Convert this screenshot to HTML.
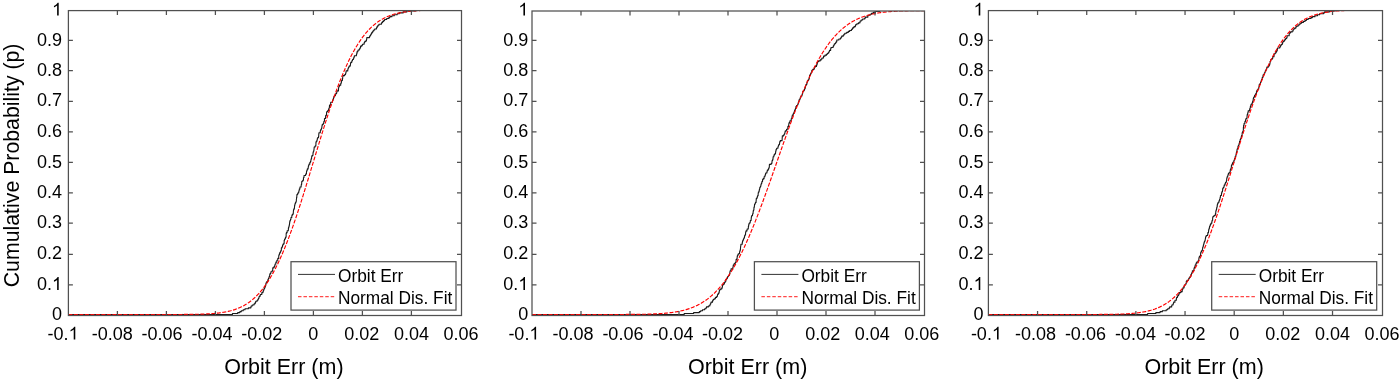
<!DOCTYPE html><html><head><meta charset="utf-8"><style>html,body{margin:0;padding:0;background:#fff;overflow:hidden}svg{display:block;will-change:transform}</style></head><body>
<svg width="1400" height="379" viewBox="0 0 1400 379" font-family='"Liberation Sans", sans-serif' fill="#000">
<rect width="1400" height="379" fill="#fff"/>
<defs><clipPath id="c0"><rect x="68.4" y="10.6" width="393.1" height="304.9"/></clipPath></defs>
<g clip-path="url(#c0)"><path d="M68.40 314.50 L232.44 314.50 L232.44 314.50 L232.44 313.55 L237.71 313.55 L237.71 312.60 L239.88 312.60 L239.88 311.65 L241.28 311.65 L241.28 310.69 L243.18 310.69 L243.18 309.74 L245.02 309.74 L245.02 308.79 L248.36 308.79 L248.36 307.84 L250.86 307.84 L250.86 306.89 L251.14 306.89 L251.14 305.94 L252.24 305.94 L252.24 304.98 L253.94 304.98 L253.94 304.03 L254.78 304.03 L254.78 303.08 L255.51 303.08 L255.51 302.13 L255.76 302.13 L255.76 301.18 L257.14 301.18 L257.14 300.23 L257.91 300.23 L257.91 299.27 L258.38 299.27 L258.38 298.32 L258.99 298.32 L258.99 297.37 L259.17 297.37 L259.17 296.42 L260.00 296.42 L260.00 295.47 L260.29 295.47 L260.29 294.52 L261.77 294.52 L261.77 293.57 L261.83 293.57 L261.83 292.61 L262.95 292.61 L262.95 291.66 L263.22 291.66 L263.22 290.71 L263.65 290.71 L263.65 289.76 L263.92 289.76 L263.92 288.81 L264.54 288.81 L264.54 287.86 L264.92 287.86 L264.92 286.90 L265.20 286.90 L265.20 285.95 L265.60 285.95 L265.60 285.00 L265.88 285.00 L265.88 284.05 L265.93 284.05 L265.93 283.10 L266.39 283.10 L266.39 282.15 L267.14 282.15 L267.14 281.20 L267.88 281.20 L267.88 280.24 L267.98 280.24 L267.98 279.29 L268.44 279.29 L268.44 278.34 L268.92 278.34 L268.92 277.39 L269.12 277.39 L269.12 276.44 L269.65 276.44 L269.65 275.49 L269.68 275.49 L269.68 274.53 L270.03 274.53 L270.03 273.58 L270.81 273.58 L270.81 272.63 L270.89 272.63 L270.89 271.68 L272.10 271.68 L272.10 270.73 L272.71 270.73 L272.71 269.78 L272.73 269.78 L272.73 268.82 L272.75 268.82 L272.75 267.87 L273.85 267.87 L273.85 266.92 L274.55 266.92 L274.55 265.97 L274.81 265.97 L274.81 265.02 L275.09 265.02 L275.09 264.07 L275.87 264.07 L275.87 263.12 L275.88 263.12 L275.88 262.16 L276.86 262.16 L276.86 261.21 L276.87 261.21 L276.87 260.26 L277.75 260.26 L277.75 259.31 L277.80 259.31 L277.80 258.36 L278.65 258.36 L278.65 257.41 L278.73 257.41 L278.73 256.45 L278.74 256.45 L278.74 255.50 L279.04 255.50 L279.04 254.55 L279.46 254.55 L279.46 253.60 L279.77 253.60 L279.77 252.65 L280.36 252.65 L280.36 251.70 L280.70 251.70 L280.70 250.75 L281.29 250.75 L281.29 249.79 L281.35 249.79 L281.35 248.84 L281.36 248.84 L281.36 247.89 L281.85 247.89 L281.85 246.94 L282.52 246.94 L282.52 245.99 L282.55 245.99 L282.55 245.04 L283.06 245.04 L283.06 244.08 L283.87 244.08 L283.87 243.13 L284.16 243.13 L284.16 242.18 L284.17 242.18 L284.17 241.23 L284.19 241.23 L284.19 240.28 L284.54 240.28 L284.54 239.33 L285.06 239.33 L285.06 238.38 L285.44 238.38 L285.44 237.42 L285.92 237.42 L285.92 236.47 L286.14 236.47 L286.14 235.52 L286.15 235.52 L286.15 234.57 L286.16 234.57 L286.16 233.62 L286.41 233.62 L286.41 232.67 L287.12 232.67 L287.12 231.71 L287.15 231.71 L287.15 230.76 L288.28 230.76 L288.28 229.81 L288.40 229.81 L288.40 228.86 L288.41 228.86 L288.41 227.91 L288.67 227.91 L288.67 226.96 L288.99 226.96 L288.99 226.00 L289.24 226.00 L289.24 225.05 L289.44 225.05 L289.44 224.10 L289.57 224.10 L289.57 223.15 L289.65 223.15 L289.65 222.20 L289.79 222.20 L289.79 221.25 L290.08 221.25 L290.08 220.30 L290.51 220.30 L290.51 219.34 L290.90 219.34 L290.90 218.39 L290.97 218.39 L290.97 217.44 L291.78 217.44 L291.78 216.49 L291.82 216.49 L291.82 215.54 L292.19 215.54 L292.19 214.59 L292.96 214.59 L292.96 213.63 L293.27 213.63 L293.27 212.68 L293.35 212.68 L293.35 211.73 L293.40 211.73 L293.40 210.78 L293.52 210.78 L293.52 209.83 L293.80 209.83 L293.80 208.88 L294.32 208.88 L294.32 207.93 L294.47 207.93 L294.47 206.97 L294.55 206.97 L294.55 206.02 L294.63 206.02 L294.63 205.07 L294.95 205.07 L294.95 204.12 L295.18 204.12 L295.18 203.17 L295.59 203.17 L295.59 202.22 L296.05 202.22 L296.05 201.26 L296.32 201.26 L296.32 200.31 L296.37 200.31 L296.37 199.36 L296.51 199.36 L296.51 198.41 L296.53 198.41 L296.53 197.46 L296.78 197.46 L296.78 196.51 L296.84 196.51 L296.84 195.55 L296.91 195.55 L296.91 194.60 L297.58 194.60 L297.58 193.65 L298.00 193.65 L298.00 192.70 L298.71 192.70 L298.71 191.75 L298.85 191.75 L298.85 190.80 L299.22 190.80 L299.22 189.85 L299.37 189.85 L299.37 188.89 L299.90 188.89 L299.90 187.94 L299.98 187.94 L299.98 186.99 L301.12 186.99 L301.12 186.04 L301.22 186.04 L301.22 185.09 L301.37 185.09 L301.37 184.14 L301.67 184.14 L301.67 183.18 L301.71 183.18 L301.71 182.23 L301.81 182.23 L301.81 181.28 L302.78 181.28 L302.78 180.33 L303.36 180.33 L303.36 179.38 L303.46 179.38 L303.46 178.43 L303.49 178.43 L303.49 177.47 L303.98 177.47 L303.98 176.52 L304.02 176.52 L304.02 175.57 L305.54 175.57 L305.54 174.62 L305.96 174.62 L305.96 173.67 L306.47 173.67 L306.47 172.72 L306.48 172.72 L306.48 171.77 L306.63 171.77 L306.63 170.81 L307.10 170.81 L307.10 169.86 L307.36 169.86 L307.36 168.91 L308.09 168.91 L308.09 167.96 L308.24 167.96 L308.24 167.01 L308.36 167.01 L308.36 166.06 L308.65 166.06 L308.65 165.10 L309.05 165.10 L309.05 164.15 L309.79 164.15 L309.79 163.20 L309.88 163.20 L309.88 162.25 L310.56 162.25 L310.56 161.30 L310.86 161.30 L310.86 160.35 L311.02 160.35 L311.02 159.40 L311.25 159.40 L311.25 158.44 L311.60 158.44 L311.60 157.49 L311.64 157.49 L311.64 156.54 L311.97 156.54 L311.97 155.59 L312.86 155.59 L312.86 154.64 L312.98 154.64 L312.98 153.69 L313.03 153.69 L313.03 152.73 L313.20 152.73 L313.20 151.78 L313.66 151.78 L313.66 150.83 L313.88 150.83 L313.88 149.88 L313.98 149.88 L313.98 148.93 L314.09 148.93 L314.09 147.98 L314.18 147.98 L314.18 147.02 L315.07 147.02 L315.07 146.07 L315.83 146.07 L315.83 145.12 L315.90 145.12 L315.90 144.17 L315.92 144.17 L315.92 143.22 L315.96 143.22 L315.96 142.27 L316.22 142.27 L316.22 141.32 L316.93 141.32 L316.93 140.36 L317.19 140.36 L317.19 139.41 L317.33 139.41 L317.33 138.46 L317.74 138.46 L317.74 137.51 L318.54 137.51 L318.54 136.56 L318.69 136.56 L318.69 135.61 L318.75 135.61 L318.75 134.65 L318.78 134.65 L318.78 133.70 L318.93 133.70 L318.93 132.75 L320.27 132.75 L320.27 131.80 L320.30 131.80 L320.30 130.85 L320.62 130.85 L320.62 129.90 L321.05 129.90 L321.05 128.95 L321.55 128.95 L321.55 127.99 L321.86 127.99 L321.86 127.04 L321.93 127.04 L321.93 126.09 L322.11 126.09 L322.11 125.14 L322.33 125.14 L322.33 124.19 L323.41 124.19 L323.41 123.24 L323.74 123.24 L323.74 122.28 L323.89 122.28 L323.89 121.33 L324.40 121.33 L324.40 120.38 L324.46 120.38 L324.46 119.43 L324.49 119.43 L324.49 118.48 L325.46 118.48 L325.46 117.53 L325.60 117.53 L325.60 116.57 L325.64 116.57 L325.64 115.62 L326.35 115.62 L326.35 114.67 L326.44 114.67 L326.44 113.72 L326.56 113.72 L326.56 112.77 L326.63 112.77 L326.63 111.82 L327.54 111.82 L327.54 110.87 L328.39 110.87 L328.39 109.91 L328.67 109.91 L328.67 108.96 L328.91 108.96 L328.91 108.01 L329.40 108.01 L329.40 107.06 L329.44 107.06 L329.44 106.11 L329.50 106.11 L329.50 105.16 L330.66 105.16 L330.66 104.20 L330.69 104.20 L330.69 103.25 L330.71 103.25 L330.71 102.30 L332.45 102.30 L332.45 101.35 L332.57 101.35 L332.57 100.40 L332.94 100.40 L332.94 99.45 L333.32 99.45 L333.32 98.50 L333.61 98.50 L333.61 97.54 L333.87 97.54 L333.87 96.59 L334.40 96.59 L334.40 95.64 L335.39 95.64 L335.39 94.69 L335.51 94.69 L335.51 93.74 L336.53 93.74 L336.53 92.79 L336.84 92.79 L336.84 91.83 L336.98 91.83 L336.98 90.88 L338.45 90.88 L338.45 89.93 L338.51 89.93 L338.51 88.98 L338.57 88.98 L338.57 88.03 L338.66 88.03 L338.66 87.08 L339.00 87.08 L339.00 86.12 L339.60 86.12 L339.60 85.17 L340.70 85.17 L340.70 84.22 L340.76 84.22 L340.76 83.27 L341.24 83.27 L341.24 82.32 L341.45 82.32 L341.45 81.37 L341.63 81.37 L341.63 80.42 L342.35 80.42 L342.35 79.46 L342.49 79.46 L342.49 78.51 L342.67 78.51 L342.67 77.56 L342.76 77.56 L342.76 76.61 L342.98 76.61 L342.98 75.66 L344.45 75.66 L344.45 74.71 L345.48 74.71 L345.48 73.75 L345.73 73.75 L345.73 72.80 L346.03 72.80 L346.03 71.85 L346.11 71.85 L346.11 70.90 L347.74 70.90 L347.74 69.95 L347.84 69.95 L347.84 69.00 L348.16 69.00 L348.16 68.05 L348.60 68.05 L348.60 67.09 L349.15 67.09 L349.15 66.14 L350.11 66.14 L350.11 65.19 L350.46 65.19 L350.46 64.24 L350.52 64.24 L350.52 63.29 L350.77 63.29 L350.77 62.34 L351.78 62.34 L351.78 61.38 L351.98 61.38 L351.98 60.43 L352.50 60.43 L352.50 59.48 L353.38 59.48 L353.38 58.53 L353.73 58.53 L353.73 57.58 L354.13 57.58 L354.13 56.63 L354.36 56.63 L354.36 55.68 L356.39 55.68 L356.39 54.72 L356.53 54.72 L356.53 53.77 L356.95 53.77 L356.95 52.82 L356.96 52.82 L356.96 51.87 L357.73 51.87 L357.73 50.92 L358.11 50.92 L358.11 49.97 L359.32 49.97 L359.32 49.01 L359.80 49.01 L359.80 48.06 L360.56 48.06 L360.56 47.11 L360.56 47.11 L360.56 46.16 L361.74 46.16 L361.74 45.21 L362.51 45.21 L362.51 44.26 L364.06 44.26 L364.06 43.30 L364.27 43.30 L364.27 42.35 L364.81 42.35 L364.81 41.40 L365.97 41.40 L365.97 40.45 L366.47 40.45 L366.47 39.50 L366.68 39.50 L366.68 38.55 L366.81 38.55 L366.81 37.60 L369.45 37.60 L369.45 36.64 L369.81 36.64 L369.81 35.69 L370.52 35.69 L370.52 34.74 L371.11 34.74 L371.11 33.79 L371.53 33.79 L371.53 32.84 L372.36 32.84 L372.36 31.89 L372.86 31.89 L372.86 30.93 L373.70 30.93 L373.70 29.98 L374.68 29.98 L374.68 29.03 L376.42 29.03 L376.42 28.08 L376.74 28.08 L376.74 27.13 L377.31 27.13 L377.31 26.18 L377.97 26.18 L377.97 25.23 L378.96 25.23 L378.96 24.27 L381.36 24.27 L381.36 23.32 L381.81 23.32 L381.81 22.37 L382.71 22.37 L382.71 21.42 L383.71 21.42 L383.71 20.47 L384.60 20.47 L384.60 19.52 L386.68 19.52 L386.68 18.56 L388.83 18.56 L388.83 17.61 L389.81 17.61 L389.81 16.66 L391.87 16.66 L391.87 15.71 L394.23 15.71 L394.23 14.76 L397.14 14.76 L397.14 13.81 L399.16 13.81 L399.16 12.85 L403.25 12.85 L403.25 11.90 L406.80 11.90 L406.80 10.95 L415.83 10.95 L415.83 10.00 L461.50 10.00" fill="none" stroke="#1a1a1a" stroke-width="1.1" stroke-linejoin="round"/>
<path d="M68.40 314.50 L69.19 314.50 L69.98 314.50 L70.76 314.50 L71.55 314.50 L72.34 314.50 L73.13 314.50 L73.91 314.50 L74.70 314.50 L75.49 314.50 L76.28 314.50 L77.07 314.50 L77.85 314.50 L78.64 314.50 L79.43 314.50 L80.22 314.50 L81.00 314.50 L81.79 314.50 L82.58 314.50 L83.37 314.50 L84.16 314.50 L84.94 314.50 L85.73 314.50 L86.52 314.50 L87.31 314.50 L88.09 314.50 L88.88 314.50 L89.67 314.50 L90.46 314.50 L91.25 314.50 L92.03 314.50 L92.82 314.50 L93.61 314.50 L94.40 314.50 L95.18 314.50 L95.97 314.50 L96.76 314.50 L97.55 314.50 L98.34 314.50 L99.12 314.50 L99.91 314.50 L100.70 314.50 L101.49 314.50 L102.27 314.50 L103.06 314.50 L103.85 314.50 L104.64 314.50 L105.43 314.50 L106.21 314.50 L107.00 314.50 L107.79 314.50 L108.58 314.50 L109.36 314.50 L110.15 314.50 L110.94 314.50 L111.73 314.50 L112.52 314.50 L113.30 314.50 L114.09 314.50 L114.88 314.50 L115.67 314.50 L116.45 314.50 L117.24 314.50 L118.03 314.50 L118.82 314.50 L119.61 314.50 L120.39 314.50 L121.18 314.50 L121.97 314.50 L122.76 314.50 L123.54 314.50 L124.33 314.50 L125.12 314.50 L125.91 314.50 L126.70 314.50 L127.48 314.50 L128.27 314.50 L129.06 314.50 L129.85 314.50 L130.63 314.50 L131.42 314.50 L132.21 314.50 L133.00 314.50 L133.79 314.50 L134.57 314.50 L135.36 314.50 L136.15 314.50 L136.94 314.50 L137.72 314.50 L138.51 314.50 L139.30 314.50 L140.09 314.50 L140.88 314.50 L141.66 314.50 L142.45 314.50 L143.24 314.50 L144.03 314.50 L144.81 314.50 L145.60 314.50 L146.39 314.50 L147.18 314.50 L147.97 314.50 L148.75 314.50 L149.54 314.50 L150.33 314.50 L151.12 314.50 L151.90 314.50 L152.69 314.50 L153.48 314.50 L154.27 314.50 L155.06 314.50 L155.84 314.50 L156.63 314.50 L157.42 314.50 L158.21 314.50 L158.99 314.50 L159.78 314.50 L160.57 314.50 L161.36 314.49 L162.15 314.49 L162.93 314.49 L163.72 314.49 L164.51 314.49 L165.30 314.49 L166.08 314.49 L166.87 314.49 L167.66 314.49 L168.45 314.49 L169.24 314.49 L170.02 314.49 L170.81 314.48 L171.60 314.48 L172.39 314.48 L173.17 314.48 L173.96 314.48 L174.75 314.48 L175.54 314.47 L176.33 314.47 L177.11 314.47 L177.90 314.47 L178.69 314.46 L179.48 314.46 L180.26 314.46 L181.05 314.45 L181.84 314.45 L182.63 314.44 L183.42 314.44 L184.20 314.43 L184.99 314.43 L185.78 314.42 L186.57 314.42 L187.35 314.41 L188.14 314.40 L188.93 314.39 L189.72 314.38 L190.51 314.38 L191.29 314.37 L192.08 314.35 L192.87 314.34 L193.66 314.33 L194.44 314.32 L195.23 314.30 L196.02 314.29 L196.81 314.27 L197.60 314.25 L198.38 314.24 L199.17 314.21 L199.96 314.19 L200.75 314.17 L201.53 314.15 L202.32 314.12 L203.11 314.09 L203.90 314.06 L204.69 314.03 L205.47 314.00 L206.26 313.96 L207.05 313.92 L207.84 313.88 L208.62 313.84 L209.41 313.79 L210.20 313.74 L210.99 313.69 L211.78 313.64 L212.56 313.58 L213.35 313.52 L214.14 313.45 L214.93 313.38 L215.71 313.31 L216.50 313.23 L217.29 313.15 L218.08 313.06 L218.87 312.97 L219.65 312.87 L220.44 312.76 L221.23 312.65 L222.02 312.54 L222.80 312.42 L223.59 312.29 L224.38 312.15 L225.17 312.01 L225.96 311.86 L226.74 311.71 L227.53 311.54 L228.32 311.36 L229.11 311.18 L229.89 310.99 L230.68 310.79 L231.47 310.57 L232.26 310.35 L233.05 310.12 L233.83 309.87 L234.62 309.62 L235.41 309.35 L236.20 309.07 L236.98 308.78 L237.77 308.47 L238.56 308.15 L239.35 307.81 L240.14 307.46 L240.92 307.10 L241.71 306.72 L242.50 306.32 L243.29 305.90 L244.07 305.47 L244.86 305.02 L245.65 304.55 L246.44 304.07 L247.23 303.56 L248.01 303.03 L248.80 302.49 L249.59 301.92 L250.38 301.33 L251.16 300.72 L251.95 300.09 L252.74 299.43 L253.53 298.75 L254.32 298.04 L255.10 297.31 L255.89 296.56 L256.68 295.78 L257.47 294.97 L258.25 294.14 L259.04 293.28 L259.83 292.39 L260.62 291.47 L261.41 290.52 L262.19 289.55 L262.98 288.54 L263.77 287.51 L264.56 286.44 L265.34 285.35 L266.13 284.22 L266.92 283.06 L267.71 281.87 L268.49 280.65 L269.28 279.40 L270.07 278.11 L270.86 276.79 L271.65 275.43 L272.43 274.05 L273.22 272.63 L274.01 271.17 L274.80 269.68 L275.58 268.16 L276.37 266.60 L277.16 265.01 L277.95 263.39 L278.74 261.73 L279.52 260.04 L280.31 258.32 L281.10 256.56 L281.89 254.76 L282.67 252.94 L283.46 251.08 L284.25 249.19 L285.04 247.26 L285.83 245.31 L286.61 243.32 L287.40 241.30 L288.19 239.25 L288.98 237.17 L289.76 235.06 L290.55 232.92 L291.34 230.76 L292.13 228.56 L292.92 226.34 L293.70 224.09 L294.49 221.81 L295.28 219.51 L296.07 217.19 L296.85 214.84 L297.64 212.47 L298.43 210.08 L299.22 207.66 L300.01 205.23 L300.79 202.78 L301.58 200.30 L302.37 197.82 L303.16 195.31 L303.94 192.80 L304.73 190.26 L305.52 187.72 L306.31 185.16 L307.10 182.60 L307.88 180.02 L308.67 177.44 L309.46 174.84 L310.25 172.25 L311.03 169.65 L311.82 167.04 L312.61 164.43 L313.40 161.83 L314.19 159.22 L314.97 156.61 L315.76 154.01 L316.55 151.41 L317.34 148.81 L318.12 146.22 L318.91 143.64 L319.70 141.07 L320.49 138.50 L321.28 135.95 L322.06 133.41 L322.85 130.88 L323.64 128.37 L324.43 125.87 L325.21 123.39 L326.00 120.92 L326.79 118.48 L327.58 116.05 L328.37 113.64 L329.15 111.26 L329.94 108.89 L330.73 106.55 L331.52 104.24 L332.30 101.94 L333.09 99.68 L333.88 97.44 L334.67 95.22 L335.46 93.04 L336.24 90.88 L337.03 88.75 L337.82 86.65 L338.61 84.58 L339.39 82.54 L340.18 80.53 L340.97 78.55 L341.76 76.61 L342.55 74.69 L343.33 72.81 L344.12 70.96 L344.91 69.15 L345.70 67.37 L346.48 65.62 L347.27 63.90 L348.06 62.22 L348.85 60.58 L349.64 58.96 L350.42 57.39 L351.21 55.84 L352.00 54.33 L352.79 52.85 L353.57 51.41 L354.36 50.00 L355.15 48.62 L355.94 47.28 L356.73 45.97 L357.51 44.69 L358.30 43.45 L359.09 42.24 L359.88 41.06 L360.66 39.91 L361.45 38.79 L362.24 37.71 L363.03 36.65 L363.82 35.63 L364.60 34.63 L365.39 33.67 L366.18 32.73 L366.97 31.82 L367.75 30.94 L368.54 30.09 L369.33 29.26 L370.12 28.47 L370.91 27.69 L371.69 26.95 L372.48 26.22 L373.27 25.53 L374.06 24.85 L374.84 24.20 L375.63 23.58 L376.42 22.97 L377.21 22.39 L378.00 21.83 L378.78 21.29 L379.57 20.77 L380.36 20.27 L381.15 19.79 L381.93 19.33 L382.72 18.89 L383.51 18.46 L384.30 18.05 L385.09 17.66 L385.87 17.28 L386.66 16.92 L387.45 16.58 L388.24 16.25 L389.02 15.93 L389.81 15.63 L390.60 15.34 L391.39 15.06 L392.18 14.80 L392.96 14.54 L393.75 14.30 L394.54 14.07 L395.33 13.85 L396.11 13.65 L396.90 13.45 L397.69 13.26 L398.48 13.08 L399.27 12.91 L400.05 12.74 L400.84 12.59 L401.63 12.44 L402.42 12.30 L403.20 12.17 L403.99 12.04 L404.78 11.92 L405.57 11.81 L406.36 11.70 L407.14 11.60 L407.93 11.50 L408.72 11.41 L409.51 11.33 L410.29 11.25 L411.08 11.17 L411.87 11.10 L412.66 11.03 L413.45 10.96 L414.23 10.90 L415.02 10.84 L415.81 10.79 L416.60 10.74 L417.38 10.69 L418.17 10.65 L418.96 10.60 L419.75 10.56 L420.54 10.53 L421.32 10.49 L422.11 10.46 L422.90 10.43 L423.69 10.40 L424.47 10.37 L425.26 10.35 L426.05 10.32 L426.84 10.30 L427.63 10.28 L428.41 10.26 L429.20 10.24 L429.99 10.22 L430.78 10.21 L431.56 10.19 L432.35 10.18 L433.14 10.17 L433.93 10.15 L434.72 10.14 L435.50 10.13 L436.29 10.12 L437.08 10.11 L437.87 10.10 L438.65 10.10 L439.44 10.09 L440.23 10.08 L441.02 10.08 L441.81 10.07 L442.59 10.06 L443.38 10.06 L444.17 10.05 L444.96 10.05 L445.74 10.05 L446.53 10.04 L447.32 10.04 L448.11 10.04 L448.90 10.03 L449.68 10.03 L450.47 10.03 L451.26 10.03 L452.05 10.02 L452.83 10.02 L453.62 10.02 L454.41 10.02 L455.20 10.02 L455.99 10.02 L456.77 10.01 L457.56 10.01 L458.35 10.01 L459.14 10.01 L459.92 10.01 L460.71 10.01 L461.50 10.01" fill="none" stroke="#f00" stroke-width="1.15" stroke-dasharray="4 1.5"/></g>
<rect x="68.4" y="10.6" width="393.10" height="304.90" fill="none" stroke="#505050" stroke-width="1.25"/>
<path d="M117.40 315.5v-4.5M117.40 10.6v4.5M166.40 315.5v-4.5M166.40 10.6v4.5M215.40 315.5v-4.5M215.40 10.6v4.5M264.40 315.5v-4.5M264.40 10.6v4.5M313.40 315.5v-4.5M313.40 10.6v4.5M362.40 315.5v-4.5M362.40 10.6v4.5M411.40 315.5v-4.5M411.40 10.6v4.5M68.4 284.90h4.5M461.5 284.90h-4.5M68.4 254.25h4.5M461.5 254.25h-4.5M68.4 223.20h4.5M461.5 223.20h-4.5M68.4 192.90h4.5M461.5 192.90h-4.5M68.4 162.40h4.5M461.5 162.40h-4.5M68.4 131.90h4.5M461.5 131.90h-4.5M68.4 101.30h4.5M461.5 101.30h-4.5M68.4 70.50h4.5M461.5 70.50h-4.5M68.4 40.40h4.5M461.5 40.40h-4.5" stroke="#505050" stroke-width="1.25" fill="none"/>
<text x="51.99" y="320.10" font-size="18">0</text>
<text x="36.98" y="290.00" font-size="18">0.</text><path d="M763 0L583 0L583 -1147Q518 -1085 412.5 -1023Q307 -961 223 -930L223 -1104Q374 -1175 486 -1276Q598 -1377 646 -1466L763 -1466Z" transform="translate(51.99,290.00) scale(0.008789)"/>
<text x="36.98" y="259.35" font-size="18">0.2</text>
<text x="36.98" y="228.30" font-size="18">0.3</text>
<text x="36.98" y="198.00" font-size="18">0.4</text>
<text x="36.98" y="167.50" font-size="18">0.5</text>
<text x="36.98" y="137.00" font-size="18">0.6</text>
<text x="36.98" y="106.40" font-size="18">0.7</text>
<text x="36.98" y="75.60" font-size="18">0.8</text>
<text x="36.98" y="45.50" font-size="18">0.9</text>
<path d="M763 0L583 0L583 -1147Q518 -1085 412.5 -1023Q307 -961 223 -930L223 -1104Q374 -1175 486 -1276Q598 -1377 646 -1466L763 -1466Z" transform="translate(51.99,15.60) scale(0.008789)"/>
<text x="47.58" y="339.60" font-size="18">-0.</text><path d="M763 0L583 0L583 -1147Q518 -1085 412.5 -1023Q307 -961 223 -930L223 -1104Q374 -1175 486 -1276Q598 -1377 646 -1466L763 -1466Z" transform="translate(68.59,339.60) scale(0.008789)"/>
<text x="91.78" y="339.60" font-size="18">-0.08</text>
<text x="141.58" y="339.60" font-size="18">-0.06</text>
<text x="191.58" y="339.60" font-size="18">-0.04</text>
<text x="241.18" y="339.60" font-size="18">-0.02</text>
<text x="308.34" y="339.60" font-size="18">0</text>
<text x="344.34" y="339.60" font-size="18">0.02</text>
<text x="393.94" y="339.60" font-size="18">0.04</text>
<text x="443.54" y="339.60" font-size="18">0.06</text>
<text transform="translate(283.90,374.4) scale(1,1.03)" font-size="21.5" text-anchor="middle">Orbit Err (m)</text>
<rect x="291.00" y="261.7" width="165" height="48.4" fill="#fff" stroke="#505050" stroke-width="1.25"/>
<path d="M298.00 274.4H335.00" stroke="#333" stroke-width="1"/>
<path d="M298.00 296.6H335.00" stroke="#ff4848" stroke-width="1.1" stroke-dasharray="3.5 1.95"/>
<text transform="translate(338.00,281.6) scale(1,1.03)" font-size="17.3">Orbit Err</text>
<text transform="translate(338.00,304.1) scale(1,1.03)" font-size="17.3">Normal Dis. Fit</text>
<defs><clipPath id="c1"><rect x="532.0" y="11.0" width="392.5" height="304.5"/></clipPath></defs>
<g clip-path="url(#c1)"><path d="M532.00 314.50 L684.19 314.50 L684.19 314.50 L684.19 313.55 L693.63 313.55 L693.63 312.60 L699.33 312.60 L699.33 311.65 L700.68 311.65 L700.68 310.70 L702.53 310.70 L702.53 309.75 L704.67 309.75 L704.67 308.80 L705.92 308.80 L705.92 307.85 L706.47 307.85 L706.47 306.90 L708.34 306.90 L708.34 305.95 L709.73 305.95 L709.73 305.00 L710.19 305.00 L710.19 304.05 L710.69 304.05 L710.69 303.10 L711.06 303.10 L711.06 302.15 L712.53 302.15 L712.53 301.20 L712.70 301.20 L712.70 300.25 L713.34 300.25 L713.34 299.30 L714.81 299.30 L714.81 298.35 L715.47 298.35 L715.47 297.40 L716.64 297.40 L716.64 296.45 L717.34 296.45 L717.34 295.50 L717.51 295.50 L717.51 294.55 L718.10 294.55 L718.10 293.60 L718.80 293.60 L718.80 292.65 L719.14 292.65 L719.14 291.70 L719.28 291.70 L719.28 290.75 L719.51 290.75 L719.51 289.80 L720.71 289.80 L720.71 288.85 L721.85 288.85 L721.85 287.90 L722.16 287.90 L722.16 286.95 L722.43 286.95 L722.43 286.00 L722.46 286.00 L722.46 285.05 L723.22 285.05 L723.22 284.10 L724.24 284.10 L724.24 283.15 L724.48 283.15 L724.48 282.20 L725.27 282.20 L725.27 281.25 L725.84 281.25 L725.84 280.30 L726.00 280.30 L726.00 279.35 L726.68 279.35 L726.68 278.40 L727.34 278.40 L727.34 277.45 L727.68 277.45 L727.68 276.50 L728.54 276.50 L728.54 275.55 L729.28 275.55 L729.28 274.60 L729.62 274.60 L729.62 273.65 L729.82 273.65 L729.82 272.70 L729.88 272.70 L729.88 271.75 L730.15 271.75 L730.15 270.80 L730.98 270.80 L730.98 269.85 L731.04 269.85 L731.04 268.90 L732.76 268.90 L732.76 267.95 L732.84 267.95 L732.84 267.00 L733.21 267.00 L733.21 266.05 L733.24 266.05 L733.24 265.10 L734.03 265.10 L734.03 264.15 L734.30 264.15 L734.30 263.20 L735.53 263.20 L735.53 262.25 L735.93 262.25 L735.93 261.30 L736.08 261.30 L736.08 260.35 L736.12 260.35 L736.12 259.40 L736.93 259.40 L736.93 258.45 L737.12 258.45 L737.12 257.50 L737.18 257.50 L737.18 256.55 L737.41 256.55 L737.41 255.60 L737.86 255.60 L737.86 254.65 L738.29 254.65 L738.29 253.70 L739.55 253.70 L739.55 252.75 L739.56 252.75 L739.56 251.80 L739.85 251.80 L739.85 250.85 L740.18 250.85 L740.18 249.90 L740.39 249.90 L740.39 248.95 L740.47 248.95 L740.47 248.00 L740.55 248.00 L740.55 247.05 L740.62 247.05 L740.62 246.10 L740.84 246.10 L740.84 245.15 L740.89 245.15 L740.89 244.20 L742.23 244.20 L742.23 243.25 L742.29 243.25 L742.29 242.30 L742.50 242.30 L742.50 241.35 L742.80 241.35 L742.80 240.40 L743.20 240.40 L743.20 239.45 L743.59 239.45 L743.59 238.50 L744.11 238.50 L744.11 237.55 L744.48 237.55 L744.48 236.60 L744.59 236.60 L744.59 235.65 L745.03 235.65 L745.03 234.70 L745.53 234.70 L745.53 233.75 L745.56 233.75 L745.56 232.80 L745.67 232.80 L745.67 231.85 L746.05 231.85 L746.05 230.90 L746.96 230.90 L746.96 229.95 L747.11 229.95 L747.11 229.00 L748.26 229.00 L748.26 228.05 L748.35 228.05 L748.35 227.10 L748.38 227.10 L748.38 226.15 L748.63 226.15 L748.63 225.20 L748.78 225.20 L748.78 224.25 L749.06 224.25 L749.06 223.30 L749.89 223.30 L749.89 222.35 L750.28 222.35 L750.28 221.40 L750.32 221.40 L750.32 220.45 L751.09 220.45 L751.09 219.50 L751.17 219.50 L751.17 218.55 L751.28 218.55 L751.28 217.60 L751.41 217.60 L751.41 216.65 L751.51 216.65 L751.51 215.70 L752.51 215.70 L752.51 214.75 L752.54 214.75 L752.54 213.80 L753.06 213.80 L753.06 212.85 L753.11 212.85 L753.11 211.90 L753.20 211.90 L753.20 210.95 L753.41 210.95 L753.41 210.00 L753.89 210.00 L753.89 209.05 L753.92 209.05 L753.92 208.10 L753.98 208.10 L753.98 207.15 L754.36 207.15 L754.36 206.20 L754.45 206.20 L754.45 205.25 L754.54 205.25 L754.54 204.30 L755.05 204.30 L755.05 203.35 L755.44 203.35 L755.44 202.40 L756.07 202.40 L756.07 201.45 L756.12 201.45 L756.12 200.50 L756.21 200.50 L756.21 199.55 L756.25 199.55 L756.25 198.60 L756.90 198.60 L756.90 197.65 L757.27 197.65 L757.27 196.70 L757.47 196.70 L757.47 195.75 L758.11 195.75 L758.11 194.80 L758.15 194.80 L758.15 193.85 L758.24 193.85 L758.24 192.90 L758.37 192.90 L758.37 191.95 L759.06 191.95 L759.06 191.00 L759.21 191.00 L759.21 190.05 L759.45 190.05 L759.45 189.10 L759.74 189.10 L759.74 188.15 L759.82 188.15 L759.82 187.20 L760.37 187.20 L760.37 186.25 L760.82 186.25 L760.82 185.30 L761.00 185.30 L761.00 184.35 L761.32 184.35 L761.32 183.40 L761.73 183.40 L761.73 182.45 L761.91 182.45 L761.91 181.50 L762.55 181.50 L762.55 180.55 L762.56 180.55 L762.56 179.60 L763.16 179.60 L763.16 178.65 L764.06 178.65 L764.06 177.70 L764.09 177.70 L764.09 176.75 L764.81 176.75 L764.81 175.80 L765.21 175.80 L765.21 174.85 L765.49 174.85 L765.49 173.90 L765.72 173.90 L765.72 172.95 L766.85 172.95 L766.85 172.00 L767.10 172.00 L767.10 171.05 L767.36 171.05 L767.36 170.10 L768.26 170.10 L768.26 169.15 L768.61 169.15 L768.61 168.20 L769.02 168.20 L769.02 167.25 L769.31 167.25 L769.31 166.30 L769.35 166.30 L769.35 165.35 L769.42 165.35 L769.42 164.40 L771.09 164.40 L771.09 163.45 L771.83 163.45 L771.83 162.50 L771.99 162.50 L771.99 161.55 L772.07 161.55 L772.07 160.60 L772.58 160.60 L772.58 159.65 L772.91 159.65 L772.91 158.70 L773.04 158.70 L773.04 157.75 L773.12 157.75 L773.12 156.80 L773.84 156.80 L773.84 155.85 L774.04 155.85 L774.04 154.90 L774.42 154.90 L774.42 153.95 L775.46 153.95 L775.46 153.00 L775.61 153.00 L775.61 152.05 L775.69 152.05 L775.69 151.10 L776.00 151.10 L776.00 150.15 L776.13 150.15 L776.13 149.20 L776.64 149.20 L776.64 148.25 L777.90 148.25 L777.90 147.30 L778.10 147.30 L778.10 146.35 L778.43 146.35 L778.43 145.40 L778.80 145.40 L778.80 144.45 L779.48 144.45 L779.48 143.50 L779.62 143.50 L779.62 142.55 L779.74 142.55 L779.74 141.60 L780.28 141.60 L780.28 140.65 L782.07 140.65 L782.07 139.70 L782.15 139.70 L782.15 138.75 L782.18 138.75 L782.18 137.80 L782.28 137.80 L782.28 136.85 L782.32 136.85 L782.32 135.90 L783.54 135.90 L783.54 134.95 L784.24 134.95 L784.24 134.00 L784.68 134.00 L784.68 133.05 L785.00 133.05 L785.00 132.10 L785.15 132.10 L785.15 131.15 L786.09 131.15 L786.09 130.20 L786.55 130.20 L786.55 129.25 L787.79 129.25 L787.79 128.30 L787.81 128.30 L787.81 127.35 L787.86 127.35 L787.86 126.40 L788.58 126.40 L788.58 125.45 L788.71 125.45 L788.71 124.50 L788.81 124.50 L788.81 123.55 L789.15 123.55 L789.15 122.60 L789.80 122.60 L789.80 121.65 L789.98 121.65 L789.98 120.70 L791.20 120.70 L791.20 119.75 L791.21 119.75 L791.21 118.80 L791.82 118.80 L791.82 117.85 L791.98 117.85 L791.98 116.90 L792.07 116.90 L792.07 115.95 L792.35 115.95 L792.35 115.00 L793.19 115.00 L793.19 114.05 L793.42 114.05 L793.42 113.10 L794.19 113.10 L794.19 112.15 L794.31 112.15 L794.31 111.20 L794.59 111.20 L794.59 110.25 L795.05 110.25 L795.05 109.30 L795.47 109.30 L795.47 108.35 L795.87 108.35 L795.87 107.40 L795.90 107.40 L795.90 106.45 L796.52 106.45 L796.52 105.50 L797.59 105.50 L797.59 104.55 L798.05 104.55 L798.05 103.60 L798.29 103.60 L798.29 102.65 L798.55 102.65 L798.55 101.70 L799.00 101.70 L799.00 100.75 L799.06 100.75 L799.06 99.80 L799.90 99.80 L799.90 98.85 L800.15 98.85 L800.15 97.90 L800.59 97.90 L800.59 96.95 L800.95 96.95 L800.95 96.00 L801.87 96.00 L801.87 95.05 L802.23 95.05 L802.23 94.10 L802.48 94.10 L802.48 93.15 L802.71 93.15 L802.71 92.20 L802.80 92.20 L802.80 91.25 L803.72 91.25 L803.72 90.30 L804.48 90.30 L804.48 89.35 L804.74 89.35 L804.74 88.40 L805.15 88.40 L805.15 87.45 L805.36 87.45 L805.36 86.50 L805.60 86.50 L805.60 85.55 L805.97 85.55 L805.97 84.60 L806.75 84.60 L806.75 83.65 L806.89 83.65 L806.89 82.70 L807.15 82.70 L807.15 81.75 L807.39 81.75 L807.39 80.80 L808.38 80.80 L808.38 79.85 L808.79 79.85 L808.79 78.90 L809.16 78.90 L809.16 77.95 L809.43 77.95 L809.43 77.00 L809.47 77.00 L809.47 76.05 L809.60 76.05 L809.60 75.10 L810.55 75.10 L810.55 74.15 L810.74 74.15 L810.74 73.20 L811.20 73.20 L811.20 72.25 L811.83 72.25 L811.83 71.30 L811.83 71.30 L811.83 70.35 L812.75 70.35 L812.75 69.40 L814.01 69.40 L814.01 68.45 L814.44 68.45 L814.44 67.50 L814.98 67.50 L814.98 66.55 L816.48 66.55 L816.48 65.60 L816.67 65.60 L816.67 64.65 L817.02 64.65 L817.02 63.70 L817.29 63.70 L817.29 62.75 L817.45 62.75 L817.45 61.80 L818.64 61.80 L818.64 60.85 L820.23 60.85 L820.23 59.90 L821.18 59.90 L821.18 58.95 L822.01 58.95 L822.01 58.00 L823.55 58.00 L823.55 57.05 L823.57 57.05 L823.57 56.10 L825.01 56.10 L825.01 55.15 L826.49 55.15 L826.49 54.20 L827.38 54.20 L827.38 53.25 L828.60 53.25 L828.60 52.30 L829.07 52.30 L829.07 51.35 L829.47 51.35 L829.47 50.40 L830.62 50.40 L830.62 49.45 L830.67 49.45 L830.67 48.50 L830.99 48.50 L830.99 47.55 L833.06 47.55 L833.06 46.60 L833.41 46.60 L833.41 45.65 L833.91 45.65 L833.91 44.70 L834.37 44.70 L834.37 43.75 L835.47 43.75 L835.47 42.80 L836.12 42.80 L836.12 41.85 L836.77 41.85 L836.77 40.90 L836.79 40.90 L836.79 39.95 L838.83 39.95 L838.83 39.00 L840.52 39.00 L840.52 38.05 L841.23 38.05 L841.23 37.10 L841.71 37.10 L841.71 36.15 L843.19 36.15 L843.19 35.20 L843.91 35.20 L843.91 34.25 L844.82 34.25 L844.82 33.30 L846.70 33.30 L846.70 32.35 L848.32 32.35 L848.32 31.40 L849.62 31.40 L849.62 30.45 L851.43 30.45 L851.43 29.50 L852.26 29.50 L852.26 28.55 L852.90 28.55 L852.90 27.60 L853.98 27.60 L853.98 26.65 L855.30 26.65 L855.30 25.70 L855.52 25.70 L855.52 24.75 L856.83 24.75 L856.83 23.80 L858.42 23.80 L858.42 22.85 L859.95 22.85 L859.95 21.90 L860.11 21.90 L860.11 20.95 L861.21 20.95 L861.21 20.00 L862.64 20.00 L862.64 19.05 L864.71 19.05 L864.71 18.10 L865.35 18.10 L865.35 17.15 L867.80 17.15 L867.80 16.20 L867.94 16.20 L867.94 15.25 L870.08 15.25 L870.08 14.30 L871.48 14.30 L871.48 13.35 L873.25 13.35 L873.25 12.40 L875.42 12.40 L875.42 11.45 L879.88 11.45 L879.88 10.50 L924.50 10.50" fill="none" stroke="#1a1a1a" stroke-width="1.1" stroke-linejoin="round"/>
<path d="M532.00 314.50 L532.79 314.50 L533.57 314.50 L534.36 314.50 L535.15 314.50 L535.93 314.50 L536.72 314.50 L537.51 314.50 L538.29 314.50 L539.08 314.50 L539.87 314.50 L540.65 314.50 L541.44 314.50 L542.23 314.50 L543.01 314.50 L543.80 314.50 L544.59 314.50 L545.37 314.50 L546.16 314.50 L546.94 314.50 L547.73 314.50 L548.52 314.50 L549.30 314.50 L550.09 314.50 L550.88 314.50 L551.66 314.50 L552.45 314.50 L553.24 314.50 L554.02 314.50 L554.81 314.50 L555.60 314.50 L556.38 314.50 L557.17 314.50 L557.96 314.50 L558.74 314.50 L559.53 314.50 L560.32 314.50 L561.10 314.50 L561.89 314.50 L562.68 314.50 L563.46 314.50 L564.25 314.50 L565.04 314.50 L565.82 314.50 L566.61 314.50 L567.40 314.50 L568.18 314.50 L568.97 314.50 L569.76 314.50 L570.54 314.50 L571.33 314.50 L572.12 314.50 L572.90 314.50 L573.69 314.50 L574.47 314.50 L575.26 314.50 L576.05 314.50 L576.83 314.50 L577.62 314.50 L578.41 314.50 L579.19 314.50 L579.98 314.50 L580.77 314.50 L581.55 314.50 L582.34 314.50 L583.13 314.50 L583.91 314.50 L584.70 314.50 L585.49 314.50 L586.27 314.50 L587.06 314.50 L587.85 314.50 L588.63 314.50 L589.42 314.50 L590.21 314.50 L590.99 314.50 L591.78 314.50 L592.57 314.50 L593.35 314.50 L594.14 314.50 L594.93 314.50 L595.71 314.50 L596.50 314.50 L597.29 314.50 L598.07 314.50 L598.86 314.50 L599.65 314.50 L600.43 314.50 L601.22 314.49 L602.01 314.49 L602.79 314.49 L603.58 314.49 L604.36 314.49 L605.15 314.49 L605.94 314.49 L606.72 314.49 L607.51 314.49 L608.30 314.49 L609.08 314.49 L609.87 314.49 L610.66 314.49 L611.44 314.49 L612.23 314.48 L613.02 314.48 L613.80 314.48 L614.59 314.48 L615.38 314.48 L616.16 314.48 L616.95 314.48 L617.74 314.47 L618.52 314.47 L619.31 314.47 L620.10 314.47 L620.88 314.47 L621.67 314.46 L622.46 314.46 L623.24 314.46 L624.03 314.45 L624.82 314.45 L625.60 314.45 L626.39 314.44 L627.18 314.44 L627.96 314.43 L628.75 314.43 L629.54 314.42 L630.32 314.42 L631.11 314.41 L631.89 314.41 L632.68 314.40 L633.47 314.39 L634.25 314.39 L635.04 314.38 L635.83 314.37 L636.61 314.36 L637.40 314.35 L638.19 314.34 L638.97 314.33 L639.76 314.32 L640.55 314.30 L641.33 314.29 L642.12 314.28 L642.91 314.26 L643.69 314.25 L644.48 314.23 L645.27 314.21 L646.05 314.20 L646.84 314.18 L647.63 314.15 L648.41 314.13 L649.20 314.11 L649.99 314.08 L650.77 314.06 L651.56 314.03 L652.35 314.00 L653.13 313.97 L653.92 313.94 L654.71 313.90 L655.49 313.87 L656.28 313.83 L657.07 313.79 L657.85 313.75 L658.64 313.70 L659.42 313.66 L660.21 313.61 L661.00 313.56 L661.78 313.50 L662.57 313.44 L663.36 313.38 L664.14 313.32 L664.93 313.25 L665.72 313.18 L666.50 313.11 L667.29 313.03 L668.08 312.95 L668.86 312.86 L669.65 312.77 L670.44 312.68 L671.22 312.58 L672.01 312.48 L672.80 312.37 L673.58 312.26 L674.37 312.14 L675.16 312.02 L675.94 311.89 L676.73 311.75 L677.52 311.61 L678.30 311.47 L679.09 311.31 L679.88 311.15 L680.66 310.98 L681.45 310.81 L682.24 310.63 L683.02 310.44 L683.81 310.24 L684.60 310.03 L685.38 309.82 L686.17 309.59 L686.95 309.36 L687.74 309.12 L688.53 308.87 L689.31 308.61 L690.10 308.33 L690.89 308.05 L691.67 307.76 L692.46 307.45 L693.25 307.14 L694.03 306.81 L694.82 306.47 L695.61 306.12 L696.39 305.75 L697.18 305.38 L697.97 304.98 L698.75 304.58 L699.54 304.16 L700.33 303.72 L701.11 303.28 L701.90 302.81 L702.69 302.33 L703.47 301.84 L704.26 301.32 L705.05 300.80 L705.83 300.25 L706.62 299.69 L707.41 299.11 L708.19 298.51 L708.98 297.89 L709.77 297.26 L710.55 296.61 L711.34 295.93 L712.13 295.24 L712.91 294.53 L713.70 293.79 L714.48 293.04 L715.27 292.27 L716.06 291.47 L716.84 290.65 L717.63 289.81 L718.42 288.95 L719.20 288.07 L719.99 287.16 L720.78 286.23 L721.56 285.28 L722.35 284.30 L723.14 283.31 L723.92 282.28 L724.71 281.23 L725.50 280.16 L726.28 279.07 L727.07 277.95 L727.86 276.80 L728.64 275.63 L729.43 274.44 L730.22 273.22 L731.00 271.97 L731.79 270.70 L732.58 269.41 L733.36 268.08 L734.15 266.74 L734.94 265.37 L735.72 263.97 L736.51 262.55 L737.30 261.10 L738.08 259.62 L738.87 258.12 L739.66 256.60 L740.44 255.05 L741.23 253.48 L742.02 251.88 L742.80 250.25 L743.59 248.61 L744.37 246.94 L745.16 245.24 L745.95 243.52 L746.73 241.78 L747.52 240.01 L748.31 238.22 L749.09 236.41 L749.88 234.58 L750.67 232.72 L751.45 230.84 L752.24 228.95 L753.03 227.03 L753.81 225.09 L754.60 223.13 L755.39 221.16 L756.17 219.16 L756.96 217.15 L757.75 215.11 L758.53 213.07 L759.32 211.00 L760.11 208.92 L760.89 206.82 L761.68 204.71 L762.47 202.59 L763.25 200.45 L764.04 198.30 L764.83 196.14 L765.61 193.96 L766.40 191.78 L767.19 189.59 L767.97 187.38 L768.76 185.17 L769.55 182.95 L770.33 180.72 L771.12 178.49 L771.90 176.25 L772.69 174.01 L773.48 171.76 L774.26 169.51 L775.05 167.26 L775.84 165.00 L776.62 162.75 L777.41 160.49 L778.20 158.24 L778.98 155.98 L779.77 153.73 L780.56 151.48 L781.34 149.24 L782.13 147.00 L782.92 144.76 L783.70 142.54 L784.49 140.31 L785.28 138.10 L786.06 135.89 L786.85 133.70 L787.64 131.51 L788.42 129.33 L789.21 127.17 L790.00 125.02 L790.78 122.88 L791.57 120.75 L792.36 118.63 L793.14 116.54 L793.93 114.45 L794.72 112.38 L795.50 110.33 L796.29 108.30 L797.08 106.28 L797.86 104.28 L798.65 102.30 L799.43 100.34 L800.22 98.39 L801.01 96.47 L801.79 94.57 L802.58 92.69 L803.37 90.83 L804.15 88.99 L804.94 87.17 L805.73 85.38 L806.51 83.61 L807.30 81.86 L808.09 80.13 L808.87 78.43 L809.66 76.76 L810.45 75.10 L811.23 73.47 L812.02 71.87 L812.81 70.29 L813.59 68.74 L814.38 67.21 L815.17 65.70 L815.95 64.22 L816.74 62.77 L817.53 61.34 L818.31 59.94 L819.10 58.56 L819.89 57.21 L820.67 55.88 L821.46 54.58 L822.25 53.30 L823.03 52.05 L823.82 50.83 L824.61 49.63 L825.39 48.45 L826.18 47.30 L826.96 46.17 L827.75 45.07 L828.54 44.00 L829.32 42.94 L830.11 41.92 L830.90 40.91 L831.68 39.93 L832.47 38.97 L833.26 38.04 L834.04 37.13 L834.83 36.24 L835.62 35.37 L836.40 34.53 L837.19 33.71 L837.98 32.91 L838.76 32.13 L839.55 31.37 L840.34 30.63 L841.12 29.91 L841.91 29.22 L842.70 28.54 L843.48 27.88 L844.27 27.24 L845.06 26.62 L845.84 26.02 L846.63 25.44 L847.42 24.87 L848.20 24.32 L848.99 23.79 L849.78 23.27 L850.56 22.77 L851.35 22.29 L852.14 21.82 L852.92 21.37 L853.71 20.93 L854.49 20.51 L855.28 20.10 L856.07 19.71 L856.85 19.33 L857.64 18.96 L858.43 18.60 L859.21 18.26 L860.00 17.93 L860.79 17.61 L861.57 17.31 L862.36 17.01 L863.15 16.73 L863.93 16.45 L864.72 16.19 L865.51 15.93 L866.29 15.69 L867.08 15.46 L867.87 15.23 L868.65 15.01 L869.44 14.81 L870.23 14.61 L871.01 14.41 L871.80 14.23 L872.59 14.05 L873.37 13.89 L874.16 13.72 L874.95 13.57 L875.73 13.42 L876.52 13.28 L877.31 13.14 L878.09 13.01 L878.88 12.89 L879.67 12.77 L880.45 12.65 L881.24 12.54 L882.03 12.44 L882.81 12.34 L883.60 12.25 L884.38 12.16 L885.17 12.07 L885.96 11.99 L886.74 11.91 L887.53 11.83 L888.32 11.76 L889.10 11.70 L889.89 11.63 L890.68 11.57 L891.46 11.51 L892.25 11.46 L893.04 11.40 L893.82 11.35 L894.61 11.31 L895.40 11.26 L896.18 11.22 L896.97 11.18 L897.76 11.14 L898.54 11.10 L899.33 11.07 L900.12 11.04 L900.90 11.00 L901.69 10.97 L902.48 10.95 L903.26 10.92 L904.05 10.90 L904.84 10.87 L905.62 10.85 L906.41 10.83 L907.20 10.81 L907.98 10.79 L908.77 10.77 L909.56 10.76 L910.34 10.74 L911.13 10.73 L911.91 10.71 L912.70 10.70 L913.49 10.69 L914.27 10.67 L915.06 10.66 L915.85 10.65 L916.63 10.64 L917.42 10.63 L918.21 10.62 L918.99 10.62 L919.78 10.61 L920.57 10.60 L921.35 10.60 L922.14 10.59 L922.93 10.58 L923.71 10.58 L924.50 10.57" fill="none" stroke="#f00" stroke-width="1.15" stroke-dasharray="4 1.5"/></g>
<rect x="532.0" y="11.0" width="392.50" height="304.50" fill="none" stroke="#505050" stroke-width="1.25"/>
<path d="M581.00 315.5v-4.5M581.00 11.0v4.5M630.00 315.5v-4.5M630.00 11.0v4.5M679.00 315.5v-4.5M679.00 11.0v4.5M728.00 315.5v-4.5M728.00 11.0v4.5M777.00 315.5v-4.5M777.00 11.0v4.5M826.00 315.5v-4.5M826.00 11.0v4.5M875.00 315.5v-4.5M875.00 11.0v4.5M532.0 284.90h4.5M924.5 284.90h-4.5M532.0 254.25h4.5M924.5 254.25h-4.5M532.0 223.20h4.5M924.5 223.20h-4.5M532.0 192.90h4.5M924.5 192.90h-4.5M532.0 162.40h4.5M924.5 162.40h-4.5M532.0 131.90h4.5M924.5 131.90h-4.5M532.0 101.30h4.5M924.5 101.30h-4.5M532.0 70.50h4.5M924.5 70.50h-4.5M532.0 40.40h4.5M924.5 40.40h-4.5" stroke="#505050" stroke-width="1.25" fill="none"/>
<text x="518.29" y="320.10" font-size="18">0</text>
<text x="503.28" y="290.00" font-size="18">0.</text><path d="M763 0L583 0L583 -1147Q518 -1085 412.5 -1023Q307 -961 223 -930L223 -1104Q374 -1175 486 -1276Q598 -1377 646 -1466L763 -1466Z" transform="translate(518.29,290.00) scale(0.008789)"/>
<text x="503.28" y="259.35" font-size="18">0.2</text>
<text x="503.28" y="228.30" font-size="18">0.3</text>
<text x="503.28" y="198.00" font-size="18">0.4</text>
<text x="503.28" y="167.50" font-size="18">0.5</text>
<text x="503.28" y="137.00" font-size="18">0.6</text>
<text x="503.28" y="106.40" font-size="18">0.7</text>
<text x="503.28" y="75.60" font-size="18">0.8</text>
<text x="503.28" y="45.50" font-size="18">0.9</text>
<path d="M763 0L583 0L583 -1147Q518 -1085 412.5 -1023Q307 -961 223 -930L223 -1104Q374 -1175 486 -1276Q598 -1377 646 -1466L763 -1466Z" transform="translate(518.29,15.60) scale(0.008789)"/>
<text x="508.38" y="339.60" font-size="18">-0.</text><path d="M763 0L583 0L583 -1147Q518 -1085 412.5 -1023Q307 -961 223 -930L223 -1104Q374 -1175 486 -1276Q598 -1377 646 -1466L763 -1466Z" transform="translate(529.39,339.60) scale(0.008789)"/>
<text x="552.58" y="339.60" font-size="18">-0.08</text>
<text x="602.38" y="339.60" font-size="18">-0.06</text>
<text x="652.38" y="339.60" font-size="18">-0.04</text>
<text x="701.98" y="339.60" font-size="18">-0.02</text>
<text x="769.14" y="339.60" font-size="18">0</text>
<text x="805.14" y="339.60" font-size="18">0.02</text>
<text x="854.74" y="339.60" font-size="18">0.04</text>
<text x="904.34" y="339.60" font-size="18">0.06</text>
<text transform="translate(747.60,374.4) scale(1,1.03)" font-size="21.5" text-anchor="middle">Orbit Err (m)</text>
<rect x="754.40" y="261.7" width="165" height="48.4" fill="#fff" stroke="#505050" stroke-width="1.25"/>
<path d="M761.40 274.4H798.40" stroke="#333" stroke-width="1"/>
<path d="M761.40 296.6H798.40" stroke="#ff4848" stroke-width="1.1" stroke-dasharray="3.5 1.95"/>
<text transform="translate(801.40,281.6) scale(1,1.03)" font-size="17.3">Orbit Err</text>
<text transform="translate(801.40,304.1) scale(1,1.03)" font-size="17.3">Normal Dis. Fit</text>
<defs><clipPath id="c2"><rect x="988.4" y="10.6" width="394.1" height="304.9"/></clipPath></defs>
<g clip-path="url(#c2)"><path d="M988.40 314.50 L1147.64 314.50 L1147.64 314.50 L1147.64 313.55 L1155.85 313.55 L1155.85 312.60 L1160.07 312.60 L1160.07 311.65 L1162.37 311.65 L1162.37 310.69 L1166.19 310.69 L1166.19 309.74 L1167.68 309.74 L1167.68 308.79 L1169.14 308.79 L1169.14 307.84 L1169.73 307.84 L1169.73 306.89 L1171.64 306.89 L1171.64 305.94 L1171.79 305.94 L1171.79 304.98 L1172.95 304.98 L1172.95 304.03 L1173.41 304.03 L1173.41 303.08 L1173.67 303.08 L1173.67 302.13 L1174.93 302.13 L1174.93 301.18 L1174.97 301.18 L1174.97 300.23 L1176.35 300.23 L1176.35 299.27 L1176.41 299.27 L1176.41 298.32 L1176.62 298.32 L1176.62 297.37 L1177.50 297.37 L1177.50 296.42 L1177.75 296.42 L1177.75 295.47 L1178.62 295.47 L1178.62 294.52 L1179.02 294.52 L1179.02 293.57 L1179.30 293.57 L1179.30 292.61 L1180.90 292.61 L1180.90 291.66 L1182.16 291.66 L1182.16 290.71 L1182.16 290.71 L1182.16 289.76 L1182.66 289.76 L1182.66 288.81 L1182.91 288.81 L1182.91 287.86 L1184.03 287.86 L1184.03 286.90 L1184.17 286.90 L1184.17 285.95 L1184.36 285.95 L1184.36 285.00 L1185.47 285.00 L1185.47 284.05 L1186.16 284.05 L1186.16 283.10 L1186.27 283.10 L1186.27 282.15 L1186.31 282.15 L1186.31 281.20 L1186.97 281.20 L1186.97 280.24 L1188.48 280.24 L1188.48 279.29 L1188.79 279.29 L1188.79 278.34 L1189.39 278.34 L1189.39 277.39 L1190.13 277.39 L1190.13 276.44 L1190.83 276.44 L1190.83 275.49 L1190.89 275.49 L1190.89 274.53 L1191.49 274.53 L1191.49 273.58 L1191.83 273.58 L1191.83 272.63 L1192.29 272.63 L1192.29 271.68 L1192.38 271.68 L1192.38 270.73 L1193.90 270.73 L1193.90 269.78 L1193.93 269.78 L1193.93 268.82 L1194.14 268.82 L1194.14 267.87 L1194.61 267.87 L1194.61 266.92 L1195.12 266.92 L1195.12 265.97 L1195.15 265.97 L1195.15 265.02 L1195.90 265.02 L1195.90 264.07 L1196.11 264.07 L1196.11 263.12 L1196.70 263.12 L1196.70 262.16 L1198.03 262.16 L1198.03 261.21 L1198.28 261.21 L1198.28 260.26 L1198.84 260.26 L1198.84 259.31 L1198.89 259.31 L1198.89 258.36 L1199.06 258.36 L1199.06 257.41 L1199.34 257.41 L1199.34 256.45 L1200.07 256.45 L1200.07 255.50 L1200.56 255.50 L1200.56 254.55 L1200.64 254.55 L1200.64 253.60 L1200.65 253.60 L1200.65 252.65 L1201.02 252.65 L1201.02 251.70 L1201.43 251.70 L1201.43 250.75 L1202.32 250.75 L1202.32 249.79 L1202.45 249.79 L1202.45 248.84 L1202.66 248.84 L1202.66 247.89 L1202.72 247.89 L1202.72 246.94 L1203.20 246.94 L1203.20 245.99 L1203.37 245.99 L1203.37 245.04 L1203.66 245.04 L1203.66 244.08 L1203.92 244.08 L1203.92 243.13 L1204.13 243.13 L1204.13 242.18 L1204.41 242.18 L1204.41 241.23 L1204.93 241.23 L1204.93 240.28 L1205.24 240.28 L1205.24 239.33 L1205.39 239.33 L1205.39 238.38 L1205.52 238.38 L1205.52 237.42 L1205.71 237.42 L1205.71 236.47 L1206.22 236.47 L1206.22 235.52 L1207.62 235.52 L1207.62 234.57 L1207.78 234.57 L1207.78 233.62 L1207.85 233.62 L1207.85 232.67 L1208.49 232.67 L1208.49 231.71 L1208.53 231.71 L1208.53 230.76 L1208.68 230.76 L1208.68 229.81 L1208.84 229.81 L1208.84 228.86 L1209.36 228.86 L1209.36 227.91 L1209.40 227.91 L1209.40 226.96 L1209.61 226.96 L1209.61 226.00 L1210.30 226.00 L1210.30 225.05 L1210.38 225.05 L1210.38 224.10 L1211.15 224.10 L1211.15 223.15 L1211.80 223.15 L1211.80 222.20 L1211.90 222.20 L1211.90 221.25 L1212.12 221.25 L1212.12 220.30 L1212.60 220.30 L1212.60 219.34 L1212.64 219.34 L1212.64 218.39 L1212.66 218.39 L1212.66 217.44 L1212.95 217.44 L1212.95 216.49 L1213.96 216.49 L1213.96 215.54 L1215.20 215.54 L1215.20 214.59 L1215.42 214.59 L1215.42 213.63 L1215.71 213.63 L1215.71 212.68 L1215.76 212.68 L1215.76 211.73 L1215.83 211.73 L1215.83 210.78 L1216.20 210.78 L1216.20 209.83 L1216.51 209.83 L1216.51 208.88 L1216.68 208.88 L1216.68 207.93 L1216.79 207.93 L1216.79 206.97 L1217.21 206.97 L1217.21 206.02 L1217.22 206.02 L1217.22 205.07 L1217.44 205.07 L1217.44 204.12 L1217.73 204.12 L1217.73 203.17 L1218.18 203.17 L1218.18 202.22 L1218.98 202.22 L1218.98 201.26 L1219.19 201.26 L1219.19 200.31 L1219.60 200.31 L1219.60 199.36 L1219.96 199.36 L1219.96 198.41 L1220.08 198.41 L1220.08 197.46 L1220.38 197.46 L1220.38 196.51 L1220.47 196.51 L1220.47 195.55 L1221.40 195.55 L1221.40 194.60 L1221.46 194.60 L1221.46 193.65 L1221.64 193.65 L1221.64 192.70 L1221.83 192.70 L1221.83 191.75 L1222.47 191.75 L1222.47 190.80 L1222.62 190.80 L1222.62 189.85 L1222.63 189.85 L1222.63 188.89 L1222.83 188.89 L1222.83 187.94 L1223.61 187.94 L1223.61 186.99 L1224.06 186.99 L1224.06 186.04 L1224.18 186.04 L1224.18 185.09 L1224.94 185.09 L1224.94 184.14 L1225.15 184.14 L1225.15 183.18 L1225.49 183.18 L1225.49 182.23 L1226.34 182.23 L1226.34 181.28 L1226.47 181.28 L1226.47 180.33 L1226.63 180.33 L1226.63 179.38 L1226.71 179.38 L1226.71 178.43 L1226.93 178.43 L1226.93 177.47 L1227.24 177.47 L1227.24 176.52 L1227.74 176.52 L1227.74 175.57 L1228.04 175.57 L1228.04 174.62 L1228.34 174.62 L1228.34 173.67 L1228.93 173.67 L1228.93 172.72 L1229.91 172.72 L1229.91 171.77 L1230.23 171.77 L1230.23 170.81 L1230.25 170.81 L1230.25 169.86 L1230.67 169.86 L1230.67 168.91 L1231.05 168.91 L1231.05 167.96 L1231.30 167.96 L1231.30 167.01 L1231.38 167.01 L1231.38 166.06 L1231.46 166.06 L1231.46 165.10 L1232.00 165.10 L1232.00 164.15 L1232.47 164.15 L1232.47 163.20 L1232.79 163.20 L1232.79 162.25 L1233.77 162.25 L1233.77 161.30 L1233.93 161.30 L1233.93 160.35 L1234.37 160.35 L1234.37 159.40 L1234.54 159.40 L1234.54 158.44 L1235.13 158.44 L1235.13 157.49 L1235.17 157.49 L1235.17 156.54 L1235.77 156.54 L1235.77 155.59 L1235.98 155.59 L1235.98 154.64 L1236.16 154.64 L1236.16 153.69 L1236.27 153.69 L1236.27 152.73 L1236.58 152.73 L1236.58 151.78 L1236.85 151.78 L1236.85 150.83 L1237.02 150.83 L1237.02 149.88 L1237.09 149.88 L1237.09 148.93 L1237.67 148.93 L1237.67 147.98 L1237.99 147.98 L1237.99 147.02 L1238.00 147.02 L1238.00 146.07 L1238.49 146.07 L1238.49 145.12 L1239.12 145.12 L1239.12 144.17 L1239.14 144.17 L1239.14 143.22 L1239.46 143.22 L1239.46 142.27 L1239.54 142.27 L1239.54 141.32 L1240.08 141.32 L1240.08 140.36 L1240.23 140.36 L1240.23 139.41 L1240.59 139.41 L1240.59 138.46 L1241.08 138.46 L1241.08 137.51 L1241.28 137.51 L1241.28 136.56 L1241.50 136.56 L1241.50 135.61 L1242.09 135.61 L1242.09 134.65 L1242.12 134.65 L1242.12 133.70 L1242.16 133.70 L1242.16 132.75 L1242.45 132.75 L1242.45 131.80 L1243.11 131.80 L1243.11 130.85 L1243.32 130.85 L1243.32 129.90 L1243.36 129.90 L1243.36 128.95 L1243.38 128.95 L1243.38 127.99 L1243.41 127.99 L1243.41 127.04 L1243.59 127.04 L1243.59 126.09 L1243.63 126.09 L1243.63 125.14 L1244.07 125.14 L1244.07 124.19 L1244.13 124.19 L1244.13 123.24 L1244.93 123.24 L1244.93 122.28 L1244.95 122.28 L1244.95 121.33 L1245.55 121.33 L1245.55 120.38 L1245.61 120.38 L1245.61 119.43 L1245.99 119.43 L1245.99 118.48 L1246.88 118.48 L1246.88 117.53 L1247.03 117.53 L1247.03 116.57 L1247.07 116.57 L1247.07 115.62 L1247.17 115.62 L1247.17 114.67 L1247.63 114.67 L1247.63 113.72 L1247.67 113.72 L1247.67 112.77 L1248.09 112.77 L1248.09 111.82 L1248.18 111.82 L1248.18 110.87 L1249.46 110.87 L1249.46 109.91 L1249.74 109.91 L1249.74 108.96 L1249.86 108.96 L1249.86 108.01 L1250.37 108.01 L1250.37 107.06 L1250.39 107.06 L1250.39 106.11 L1250.95 106.11 L1250.95 105.16 L1251.03 105.16 L1251.03 104.20 L1251.97 104.20 L1251.97 103.25 L1252.35 103.25 L1252.35 102.30 L1252.61 102.30 L1252.61 101.35 L1252.99 101.35 L1252.99 100.40 L1253.20 100.40 L1253.20 99.45 L1253.25 99.45 L1253.25 98.50 L1253.55 98.50 L1253.55 97.54 L1254.18 97.54 L1254.18 96.59 L1254.48 96.59 L1254.48 95.64 L1255.06 95.64 L1255.06 94.69 L1255.52 94.69 L1255.52 93.74 L1256.39 93.74 L1256.39 92.79 L1256.44 92.79 L1256.44 91.83 L1256.64 91.83 L1256.64 90.88 L1257.14 90.88 L1257.14 89.93 L1257.97 89.93 L1257.97 88.98 L1258.71 88.98 L1258.71 88.03 L1258.80 88.03 L1258.80 87.08 L1259.10 87.08 L1259.10 86.12 L1259.14 86.12 L1259.14 85.17 L1259.31 85.17 L1259.31 84.22 L1260.21 84.22 L1260.21 83.27 L1260.53 83.27 L1260.53 82.32 L1260.97 82.32 L1260.97 81.37 L1261.27 81.37 L1261.27 80.42 L1261.56 80.42 L1261.56 79.46 L1262.14 79.46 L1262.14 78.51 L1262.21 78.51 L1262.21 77.56 L1262.88 77.56 L1262.88 76.61 L1263.00 76.61 L1263.00 75.66 L1263.16 75.66 L1263.16 74.71 L1264.11 74.71 L1264.11 73.75 L1264.43 73.75 L1264.43 72.80 L1265.10 72.80 L1265.10 71.85 L1265.31 71.85 L1265.31 70.90 L1265.70 70.90 L1265.70 69.95 L1266.30 69.95 L1266.30 69.00 L1266.61 69.00 L1266.61 68.05 L1266.90 68.05 L1266.90 67.09 L1268.38 67.09 L1268.38 66.14 L1268.98 66.14 L1268.98 65.19 L1269.55 65.19 L1269.55 64.24 L1269.85 64.24 L1269.85 63.29 L1270.04 63.29 L1270.04 62.34 L1270.16 62.34 L1270.16 61.38 L1270.65 61.38 L1270.65 60.43 L1270.84 60.43 L1270.84 59.48 L1272.04 59.48 L1272.04 58.53 L1272.69 58.53 L1272.69 57.58 L1272.80 57.58 L1272.80 56.63 L1273.99 56.63 L1273.99 55.68 L1274.08 55.68 L1274.08 54.72 L1274.13 54.72 L1274.13 53.77 L1275.27 53.77 L1275.27 52.82 L1276.19 52.82 L1276.19 51.87 L1276.42 51.87 L1276.42 50.92 L1277.16 50.92 L1277.16 49.97 L1277.36 49.97 L1277.36 49.01 L1277.44 49.01 L1277.44 48.06 L1279.68 48.06 L1279.68 47.11 L1280.27 47.11 L1280.27 46.16 L1280.66 46.16 L1280.66 45.21 L1281.33 45.21 L1281.33 44.26 L1282.47 44.26 L1282.47 43.30 L1282.64 43.30 L1282.64 42.35 L1283.05 42.35 L1283.05 41.40 L1284.10 41.40 L1284.10 40.45 L1284.81 40.45 L1284.81 39.50 L1285.64 39.50 L1285.64 38.55 L1286.67 38.55 L1286.67 37.60 L1287.06 37.60 L1287.06 36.64 L1287.10 36.64 L1287.10 35.69 L1289.18 35.69 L1289.18 34.74 L1289.22 34.74 L1289.22 33.79 L1289.25 33.79 L1289.25 32.84 L1290.59 32.84 L1290.59 31.89 L1292.19 31.89 L1292.19 30.93 L1293.17 30.93 L1293.17 29.98 L1293.22 29.98 L1293.22 29.03 L1294.65 29.03 L1294.65 28.08 L1295.87 28.08 L1295.87 27.13 L1296.17 27.13 L1296.17 26.18 L1297.97 26.18 L1297.97 25.23 L1299.03 25.23 L1299.03 24.27 L1300.09 24.27 L1300.09 23.32 L1301.57 23.32 L1301.57 22.37 L1303.43 22.37 L1303.43 21.42 L1305.01 21.42 L1305.01 20.47 L1306.33 20.47 L1306.33 19.52 L1308.16 19.52 L1308.16 18.56 L1310.93 18.56 L1310.93 17.61 L1312.38 17.61 L1312.38 16.66 L1314.94 16.66 L1314.94 15.71 L1317.48 15.71 L1317.48 14.76 L1319.67 14.76 L1319.67 13.81 L1323.47 13.81 L1323.47 12.85 L1324.57 12.85 L1324.57 11.90 L1329.32 11.90 L1329.32 10.95 L1335.03 10.95 L1335.03 10.00 L1382.50 10.00" fill="none" stroke="#1a1a1a" stroke-width="1.1" stroke-linejoin="round"/>
<path d="M988.40 314.50 L989.19 314.50 L989.98 314.50 L990.77 314.50 L991.56 314.50 L992.35 314.50 L993.14 314.50 L993.93 314.50 L994.72 314.50 L995.51 314.50 L996.30 314.50 L997.09 314.50 L997.88 314.50 L998.67 314.50 L999.46 314.50 L1000.25 314.50 L1001.04 314.50 L1001.83 314.50 L1002.62 314.50 L1003.41 314.50 L1004.20 314.50 L1004.99 314.50 L1005.78 314.50 L1006.56 314.50 L1007.35 314.50 L1008.14 314.50 L1008.93 314.50 L1009.72 314.50 L1010.51 314.50 L1011.30 314.50 L1012.09 314.50 L1012.88 314.50 L1013.67 314.50 L1014.46 314.50 L1015.25 314.50 L1016.04 314.50 L1016.83 314.50 L1017.62 314.50 L1018.41 314.50 L1019.20 314.50 L1019.99 314.50 L1020.78 314.50 L1021.57 314.50 L1022.36 314.50 L1023.15 314.50 L1023.94 314.50 L1024.73 314.50 L1025.52 314.50 L1026.31 314.50 L1027.10 314.50 L1027.89 314.50 L1028.68 314.50 L1029.47 314.50 L1030.26 314.50 L1031.05 314.50 L1031.84 314.50 L1032.63 314.50 L1033.42 314.50 L1034.21 314.50 L1035.00 314.50 L1035.79 314.50 L1036.58 314.50 L1037.37 314.50 L1038.16 314.50 L1038.95 314.50 L1039.74 314.50 L1040.53 314.50 L1041.32 314.50 L1042.11 314.50 L1042.89 314.50 L1043.68 314.50 L1044.47 314.50 L1045.26 314.50 L1046.05 314.50 L1046.84 314.50 L1047.63 314.50 L1048.42 314.50 L1049.21 314.50 L1050.00 314.50 L1050.79 314.50 L1051.58 314.50 L1052.37 314.50 L1053.16 314.50 L1053.95 314.50 L1054.74 314.50 L1055.53 314.50 L1056.32 314.50 L1057.11 314.50 L1057.90 314.50 L1058.69 314.50 L1059.48 314.50 L1060.27 314.50 L1061.06 314.50 L1061.85 314.50 L1062.64 314.50 L1063.43 314.50 L1064.22 314.50 L1065.01 314.50 L1065.80 314.50 L1066.59 314.50 L1067.38 314.50 L1068.17 314.50 L1068.96 314.50 L1069.75 314.50 L1070.54 314.50 L1071.33 314.50 L1072.12 314.50 L1072.91 314.50 L1073.70 314.50 L1074.49 314.50 L1075.28 314.50 L1076.07 314.50 L1076.86 314.50 L1077.65 314.49 L1078.43 314.49 L1079.22 314.49 L1080.01 314.49 L1080.80 314.49 L1081.59 314.49 L1082.38 314.49 L1083.17 314.49 L1083.96 314.49 L1084.75 314.49 L1085.54 314.49 L1086.33 314.49 L1087.12 314.48 L1087.91 314.48 L1088.70 314.48 L1089.49 314.48 L1090.28 314.48 L1091.07 314.48 L1091.86 314.47 L1092.65 314.47 L1093.44 314.47 L1094.23 314.47 L1095.02 314.46 L1095.81 314.46 L1096.60 314.46 L1097.39 314.45 L1098.18 314.45 L1098.97 314.45 L1099.76 314.44 L1100.55 314.44 L1101.34 314.43 L1102.13 314.43 L1102.92 314.42 L1103.71 314.41 L1104.50 314.41 L1105.29 314.40 L1106.08 314.39 L1106.87 314.38 L1107.66 314.38 L1108.45 314.37 L1109.24 314.36 L1110.03 314.34 L1110.82 314.33 L1111.61 314.32 L1112.40 314.31 L1113.19 314.29 L1113.97 314.27 L1114.76 314.26 L1115.55 314.24 L1116.34 314.22 L1117.13 314.20 L1117.92 314.18 L1118.71 314.16 L1119.50 314.13 L1120.29 314.10 L1121.08 314.08 L1121.87 314.05 L1122.66 314.01 L1123.45 313.98 L1124.24 313.94 L1125.03 313.91 L1125.82 313.87 L1126.61 313.82 L1127.40 313.78 L1128.19 313.73 L1128.98 313.68 L1129.77 313.62 L1130.56 313.56 L1131.35 313.50 L1132.14 313.44 L1132.93 313.37 L1133.72 313.30 L1134.51 313.22 L1135.30 313.14 L1136.09 313.05 L1136.88 312.96 L1137.67 312.87 L1138.46 312.77 L1139.25 312.66 L1140.04 312.55 L1140.83 312.43 L1141.62 312.31 L1142.41 312.18 L1143.20 312.04 L1143.99 311.89 L1144.78 311.74 L1145.57 311.58 L1146.36 311.42 L1147.15 311.24 L1147.94 311.06 L1148.73 310.86 L1149.52 310.66 L1150.30 310.45 L1151.09 310.22 L1151.88 309.99 L1152.67 309.75 L1153.46 309.49 L1154.25 309.22 L1155.04 308.95 L1155.83 308.65 L1156.62 308.35 L1157.41 308.03 L1158.20 307.70 L1158.99 307.36 L1159.78 307.00 L1160.57 306.62 L1161.36 306.23 L1162.15 305.82 L1162.94 305.40 L1163.73 304.96 L1164.52 304.50 L1165.31 304.02 L1166.10 303.53 L1166.89 303.02 L1167.68 302.48 L1168.47 301.93 L1169.26 301.36 L1170.05 300.76 L1170.84 300.15 L1171.63 299.51 L1172.42 298.85 L1173.21 298.17 L1174.00 297.46 L1174.79 296.73 L1175.58 295.98 L1176.37 295.20 L1177.16 294.39 L1177.95 293.56 L1178.74 292.71 L1179.53 291.82 L1180.32 290.91 L1181.11 289.98 L1181.90 289.01 L1182.69 288.02 L1183.48 287.00 L1184.27 285.94 L1185.06 284.86 L1185.84 283.75 L1186.63 282.61 L1187.42 281.44 L1188.21 280.24 L1189.00 279.01 L1189.79 277.75 L1190.58 276.45 L1191.37 275.12 L1192.16 273.77 L1192.95 272.38 L1193.74 270.95 L1194.53 269.50 L1195.32 268.02 L1196.11 266.50 L1196.90 264.95 L1197.69 263.36 L1198.48 261.75 L1199.27 260.10 L1200.06 258.42 L1200.85 256.71 L1201.64 254.97 L1202.43 253.20 L1203.22 251.39 L1204.01 249.56 L1204.80 247.69 L1205.59 245.79 L1206.38 243.86 L1207.17 241.91 L1207.96 239.92 L1208.75 237.90 L1209.54 235.86 L1210.33 233.79 L1211.12 231.69 L1211.91 229.56 L1212.70 227.41 L1213.49 225.23 L1214.28 223.03 L1215.07 220.80 L1215.86 218.55 L1216.65 216.28 L1217.44 213.98 L1218.23 211.66 L1219.02 209.33 L1219.81 206.97 L1220.60 204.60 L1221.38 202.20 L1222.17 199.79 L1222.96 197.37 L1223.75 194.93 L1224.54 192.47 L1225.33 190.01 L1226.12 187.53 L1226.91 185.04 L1227.70 182.54 L1228.49 180.03 L1229.28 177.51 L1230.07 174.99 L1230.86 172.46 L1231.65 169.92 L1232.44 167.39 L1233.23 164.85 L1234.02 162.31 L1234.81 159.77 L1235.60 157.23 L1236.39 154.69 L1237.18 152.16 L1237.97 149.63 L1238.76 147.11 L1239.55 144.59 L1240.34 142.08 L1241.13 139.58 L1241.92 137.09 L1242.71 134.61 L1243.50 132.14 L1244.29 129.69 L1245.08 127.25 L1245.87 124.82 L1246.66 122.41 L1247.45 120.02 L1248.24 117.64 L1249.03 115.28 L1249.82 112.94 L1250.61 110.63 L1251.40 108.33 L1252.19 106.06 L1252.98 103.80 L1253.77 101.58 L1254.56 99.37 L1255.35 97.19 L1256.14 95.04 L1256.93 92.91 L1257.71 90.81 L1258.50 88.74 L1259.29 86.69 L1260.08 84.68 L1260.87 82.69 L1261.66 80.73 L1262.45 78.80 L1263.24 76.90 L1264.03 75.03 L1264.82 73.19 L1265.61 71.39 L1266.40 69.61 L1267.19 67.87 L1267.98 66.16 L1268.77 64.48 L1269.56 62.83 L1270.35 61.21 L1271.14 59.63 L1271.93 58.08 L1272.72 56.56 L1273.51 55.07 L1274.30 53.61 L1275.09 52.19 L1275.88 50.80 L1276.67 49.44 L1277.46 48.11 L1278.25 46.82 L1279.04 45.55 L1279.83 44.32 L1280.62 43.11 L1281.41 41.94 L1282.20 40.80 L1282.99 39.69 L1283.78 38.61 L1284.57 37.55 L1285.36 36.53 L1286.15 35.53 L1286.94 34.57 L1287.73 33.63 L1288.52 32.72 L1289.31 31.83 L1290.10 30.98 L1290.89 30.14 L1291.68 29.34 L1292.47 28.56 L1293.25 27.80 L1294.04 27.07 L1294.83 26.36 L1295.62 25.68 L1296.41 25.02 L1297.20 24.38 L1297.99 23.76 L1298.78 23.17 L1299.57 22.60 L1300.36 22.04 L1301.15 21.51 L1301.94 20.99 L1302.73 20.50 L1303.52 20.02 L1304.31 19.56 L1305.10 19.12 L1305.89 18.70 L1306.68 18.29 L1307.47 17.90 L1308.26 17.52 L1309.05 17.16 L1309.84 16.81 L1310.63 16.48 L1311.42 16.16 L1312.21 15.86 L1313.00 15.57 L1313.79 15.29 L1314.58 15.02 L1315.37 14.77 L1316.16 14.52 L1316.95 14.29 L1317.74 14.06 L1318.53 13.85 L1319.32 13.65 L1320.11 13.45 L1320.90 13.27 L1321.69 13.09 L1322.48 12.92 L1323.27 12.76 L1324.06 12.61 L1324.85 12.47 L1325.64 12.33 L1326.43 12.20 L1327.22 12.07 L1328.01 11.96 L1328.79 11.84 L1329.58 11.74 L1330.37 11.64 L1331.16 11.54 L1331.95 11.45 L1332.74 11.37 L1333.53 11.28 L1334.32 11.21 L1335.11 11.13 L1335.90 11.07 L1336.69 11.00 L1337.48 10.94 L1338.27 10.88 L1339.06 10.83 L1339.85 10.77 L1340.64 10.73 L1341.43 10.68 L1342.22 10.64 L1343.01 10.60 L1343.80 10.56 L1344.59 10.52 L1345.38 10.49 L1346.17 10.46 L1346.96 10.43 L1347.75 10.40 L1348.54 10.37 L1349.33 10.35 L1350.12 10.32 L1350.91 10.30 L1351.70 10.28 L1352.49 10.26 L1353.28 10.24 L1354.07 10.23 L1354.86 10.21 L1355.65 10.20 L1356.44 10.18 L1357.23 10.17 L1358.02 10.16 L1358.81 10.15 L1359.60 10.13 L1360.39 10.13 L1361.18 10.12 L1361.97 10.11 L1362.76 10.10 L1363.55 10.09 L1364.34 10.09 L1365.12 10.08 L1365.91 10.07 L1366.70 10.07 L1367.49 10.06 L1368.28 10.06 L1369.07 10.05 L1369.86 10.05 L1370.65 10.05 L1371.44 10.04 L1372.23 10.04 L1373.02 10.04 L1373.81 10.03 L1374.60 10.03 L1375.39 10.03 L1376.18 10.03 L1376.97 10.02 L1377.76 10.02 L1378.55 10.02 L1379.34 10.02 L1380.13 10.02 L1380.92 10.02 L1381.71 10.01 L1382.50 10.01" fill="none" stroke="#f00" stroke-width="1.15" stroke-dasharray="4 1.5"/></g>
<rect x="988.4" y="10.6" width="394.10" height="304.90" fill="none" stroke="#505050" stroke-width="1.25"/>
<path d="M1037.56 315.5v-4.5M1037.56 10.6v4.5M1086.72 315.5v-4.5M1086.72 10.6v4.5M1135.88 315.5v-4.5M1135.88 10.6v4.5M1185.04 315.5v-4.5M1185.04 10.6v4.5M1234.20 315.5v-4.5M1234.20 10.6v4.5M1283.36 315.5v-4.5M1283.36 10.6v4.5M1332.52 315.5v-4.5M1332.52 10.6v4.5M988.4 284.90h4.5M1382.5 284.90h-4.5M988.4 254.25h4.5M1382.5 254.25h-4.5M988.4 223.20h4.5M1382.5 223.20h-4.5M988.4 192.90h4.5M1382.5 192.90h-4.5M988.4 162.40h4.5M1382.5 162.40h-4.5M988.4 131.90h4.5M1382.5 131.90h-4.5M988.4 101.30h4.5M1382.5 101.30h-4.5M988.4 70.50h4.5M1382.5 70.50h-4.5M988.4 40.40h4.5M1382.5 40.40h-4.5" stroke="#505050" stroke-width="1.25" fill="none"/>
<text x="973.59" y="320.10" font-size="18">0</text>
<text x="958.58" y="290.00" font-size="18">0.</text><path d="M763 0L583 0L583 -1147Q518 -1085 412.5 -1023Q307 -961 223 -930L223 -1104Q374 -1175 486 -1276Q598 -1377 646 -1466L763 -1466Z" transform="translate(973.59,290.00) scale(0.008789)"/>
<text x="958.58" y="259.35" font-size="18">0.2</text>
<text x="958.58" y="228.30" font-size="18">0.3</text>
<text x="958.58" y="198.00" font-size="18">0.4</text>
<text x="958.58" y="167.50" font-size="18">0.5</text>
<text x="958.58" y="137.00" font-size="18">0.6</text>
<text x="958.58" y="106.40" font-size="18">0.7</text>
<text x="958.58" y="75.60" font-size="18">0.8</text>
<text x="958.58" y="45.50" font-size="18">0.9</text>
<path d="M763 0L583 0L583 -1147Q518 -1085 412.5 -1023Q307 -961 223 -930L223 -1104Q374 -1175 486 -1276Q598 -1377 646 -1466L763 -1466Z" transform="translate(973.59,15.60) scale(0.008789)"/>
<text x="970.88" y="339.60" font-size="18">-0.</text><path d="M763 0L583 0L583 -1147Q518 -1085 412.5 -1023Q307 -961 223 -930L223 -1104Q374 -1175 486 -1276Q598 -1377 646 -1466L763 -1466Z" transform="translate(991.89,339.60) scale(0.008789)"/>
<text x="1015.08" y="339.60" font-size="18">-0.08</text>
<text x="1064.88" y="339.60" font-size="18">-0.06</text>
<text x="1114.88" y="339.60" font-size="18">-0.04</text>
<text x="1164.48" y="339.60" font-size="18">-0.02</text>
<text x="1229.34" y="339.60" font-size="18">0</text>
<text x="1265.34" y="339.60" font-size="18">0.02</text>
<text x="1314.94" y="339.60" font-size="18">0.04</text>
<text x="1364.54" y="339.60" font-size="18">0.06</text>
<text transform="translate(1204.10,374.4) scale(1,1.03)" font-size="21.5" text-anchor="middle">Orbit Err (m)</text>
<rect x="1211.70" y="261.7" width="165" height="48.4" fill="#fff" stroke="#505050" stroke-width="1.25"/>
<path d="M1218.70 274.4H1255.70" stroke="#333" stroke-width="1"/>
<path d="M1218.70 296.6H1255.70" stroke="#ff4848" stroke-width="1.1" stroke-dasharray="3.5 1.95"/>
<text transform="translate(1258.70,281.6) scale(1,1.03)" font-size="17.3">Orbit Err</text>
<text transform="translate(1258.70,304.1) scale(1,1.03)" font-size="17.3">Normal Dis. Fit</text>
<text transform="translate(18.5,165.4) rotate(-90) scale(1,1.04)" font-size="21.3" text-anchor="middle">Cumulative Probability (p)</text>
</svg></body></html>
